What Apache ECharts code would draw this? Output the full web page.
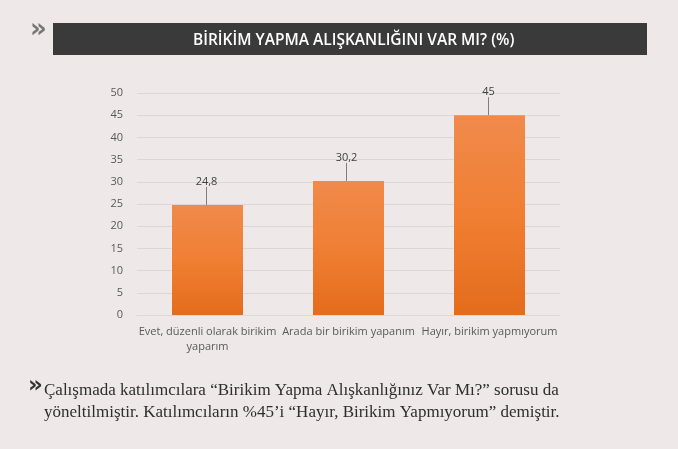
<!DOCTYPE html>
<html><head><meta charset="utf-8">
<script src="https://cdn.jsdelivr.net/npm/echarts@6/dist/echarts.min.js"></script>
<style>html,body{margin:0;padding:0;background:#efe8e8;}#c{width:678px;height:449px;}</style>
</head><body><div id="c"></div>
<script>
var titleText = 'BİRİKİM YAPMA ALIŞKANLIĞINI VAR MI? (%)';
var categories = ['Evet, düzenli olarak birikim\nyaparım', 'Arada bir birikim yapanım', 'Hayır, birikim yapmıyorum'];
var values = [24.8, 30.2, 45];
var valueLabels = ['24,8', '30,2', '45'];
var yTicks = [0, 5, 10, 15, 20, 25, 30, 35, 40, 45, 50];
var noteLine1 = 'Çalışmada katılımcılara “Birikim Yapma Alışkanlığınız Var Mı?” sorusu da';
var noteLine2 = 'yöneltilmiştir. Katılımcıların %45’i “Hayır, Birikim Yapmıyorum” demiştir.';

var chart = echarts.init(document.getElementById('c'));
chart.setOption({
  backgroundColor: '#efe8e8',
  animation: false,
  graphic: [
    { type: 'rect', left: 53, top: 23, shape: { width: 594, height: 32 }, style: { fill: '#3b3a3a' } },
    { type: 'text', left: 193, top: 33, style: { text: titleText, fill: '#ffffff', font: '600 15.5px "Open Sans"' } },
    { type: 'text', left: 30, top: 17, style: { text: '»', fill: '#777', font: 'bold 26px "DejaVu Sans"' } },
    { type: 'text', left: 28, top: 375, style: { text: '»', fill: '#333', font: 'bold 23px "DejaVu Sans"' } },
    { type: 'text', left: 44, top: 382, style: { text: noteLine1, fill: '#2e2e2e', font: '17px "Liberation Serif"' } },
    { type: 'text', left: 44, top: 404, style: { text: noteLine2, fill: '#2e2e2e', font: '17px "Liberation Serif"' } }
  ],
  grid: { left: 137, right: 118, top: 93, bottom: 134 },
  xAxis: {
    type: 'category', data: categories,
    axisLine: { lineStyle: { color: '#d9d9d9' } }, axisTick: { show: false },
    axisLabel: { color: '#595959', fontSize: 11, fontFamily: 'Open Sans', margin: 9, interval: 0, lineHeight: 15 }
  },
  yAxis: {
    type: 'value', min: yTicks[0], max: yTicks[yTicks.length - 1], interval: 5,
    axisLine: { show: false }, axisTick: { show: false },
    splitLine: { lineStyle: { color: '#dcd6d6' } },
    axisLabel: { color: '#595959', fontSize: 11, fontFamily: 'Open Sans', margin: 14 }
  },
  series: [{
    type: 'bar', data: values, barWidth: 71,
    itemStyle: {
      color: new echarts.graphic.LinearGradient(0, 0, 0, 1, [
        { offset: 0, color: '#f08a4b' }, { offset: 0.5, color: '#f07f33' }, { offset: 1, color: '#e46c1c' }
      ])
    },
    label: {
      show: true, position: 'top', distance: 5, color: '#404040', fontSize: 11, fontFamily: 'Open Sans',
      formatter: function (p) { return valueLabels[p.dataIndex]; }
    },
    labelLayout: function (p) { return { dy: -13, dx: p.dataIndex === 1 ? -2 : -1 }; },
    labelLine: { show: true, lineStyle: { color: '#7f7f7f', width: 1 } }
  }]
});
</script></body></html>
